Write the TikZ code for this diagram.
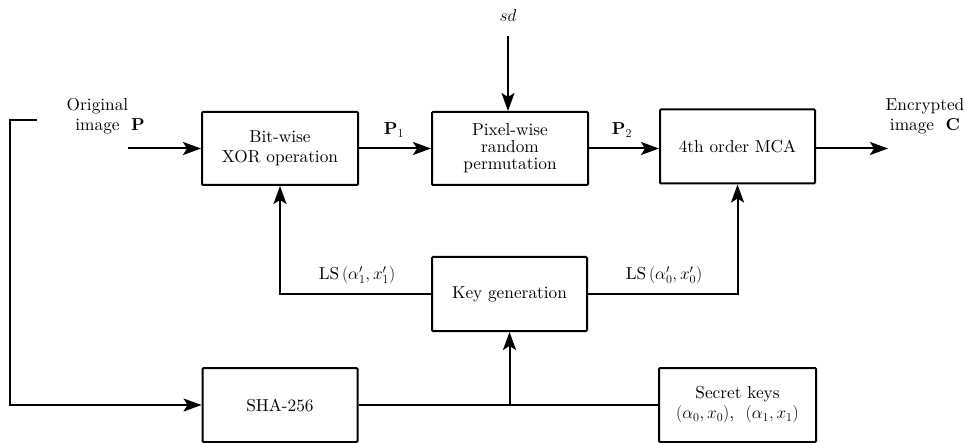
\RequirePackage{fix-cm}
\documentclass[tikz,border=0pt]{standalone}
\usepackage{fontspec}
\setmainfont{lmroman10-regular.otf}[BoldFont=lmroman10-bold.otf,ItalicFont=lmroman10-italic.otf]
\usetikzlibrary{arrows.meta}
\begin{document}
\begin{tikzpicture}[x=1pt,y=-1pt,
  every node/.style={font=\fontsize{17.3}{20}\selectfont},
  blk/.style={draw,line width=2pt,rounded corners=1pt,minimum width=156pt,minimum height=73pt,align=center,inner sep=2pt},
  lbl/.style={inner sep=1pt},
  conn/.style={line width=2pt},
  arr/.style={conn,-{Stealth[length=18pt,width=13pt,inset=4pt]}}]
\useasboundingbox (0,0) rectangle (965,443);
% blocks
\node[blk] (xor) at (280,148.5) {Bit-wise\\XOR operation};
\node[blk] (perm) at (510,148.5) {Pixel-wise\\[-3pt]random\\[-3pt]permutation};
\node[blk,minimum width=155pt,minimum height=74pt] (mca) at (737.5,146.5) {4th order MCA};
\node[blk,minimum width=155pt,minimum height=74pt] (key) at (509.5,294) {Key generation};
\node[blk,minimum width=155pt,minimum height=74pt] (sha) at (280,405) {SHA-256};
\node[blk,minimum width=157pt,minimum height=74pt] (sec) at (737.5,405) {Secret keys\\$(\alpha_0,x_0)$,\ \ $(\alpha_1,x_1)$};
% labels
\node[lbl,align=center] (orig) at (97.5,116) {Original\\image\rlap{\ \ $\mathbf{P}$}};
\node[lbl,align=center] (enc) at (925,116) {Encrypted\\image\ \ $\mathbf{C}$};
\node[lbl] (sd) at (508,15) {$sd$};
\node[lbl] (p1) at (394,130) {$\mathbf{P}_1$};
\node[lbl] (p2) at (622,130) {$\mathbf{P}_2$};
\node[lbl] (ls1) at (357,275) {$\mathrm{LS}\,(\alpha'_1,x'_1)$};
\node[lbl] (ls0) at (664,275) {$\mathrm{LS}\,(\alpha'_0,x'_0)$};
% coordinates
\coordinate (inP) at (128,148.5);
\coordinate (fb) at (37,120);
\coordinate (fbc) at (10,120);
\coordinate (sdA) at (508,36);
\coordinate (outC) at (888,146.5);
\coordinate (br) at (509.5,405);
% connectors
\draw[arr] (inP) -- (xor.west);
\draw[arr] (xor.east) -- (perm.west);
\draw[arr] (sdA) -- (sdA |- perm.north);
\draw[arr] (perm.east) -- (perm.east -| mca.west);
\draw[arr] (mca.east |- perm.east) -- (outC |- perm.east);
\draw[arr] (key.west) -| (xor.south);
\draw[arr] (key.east) -| (mca.south);
\draw[arr] (fb) -- (fbc) |- (sha.west);
\draw[conn] (sha.east) -- (sec.west);
\draw[arr] (br) -- (key.south);
\end{tikzpicture}
\end{document}
